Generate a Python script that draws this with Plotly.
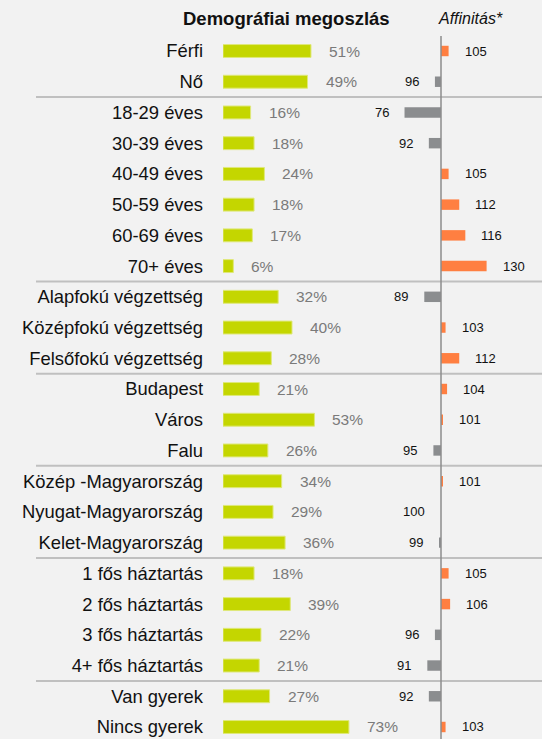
import plotly.graph_objects as go

# Demographic breakdown and affinity index
categories = [
    "Férfi", "Nő",
    "18-29 éves", "30-39 éves", "40-49 éves", "50-59 éves", "60-69 éves", "70+ éves",
    "Alapfokú végzettség", "Középfokú végzettség", "Felsőfokú végzettség",
    "Budapest", "Város", "Falu",
    "Közép -Magyarország", "Nyugat-Magyarország", "Kelet-Magyarország",
    "1 fős háztartás", "2 fős háztartás", "3 fős háztartás", "4+ fős háztartás",
    "Van gyerek", "Nincs gyerek",
]
shares = [51, 49, 16, 18, 24, 18, 17, 6, 32, 40, 28, 21, 53, 26, 34, 29, 36, 18, 39, 22, 21, 27, 73]
affinity = [105, 96, 76, 92, 105, 112, 116, 130, 89, 103, 112, 104, 101, 95, 101, 100, 99, 105, 106, 96, 91, 92, 103]
# index of the last row in each group (a separator line goes below it)
group_ends = [1, 7, 10, 13, 16, 20]

W, H = 542, 739
FONT = "Liberation Sans, Arial, sans-serif"
GREEN = "#c4d600"
ORANGE = "#ff7f41"
GRAY = "#8b8d8f"

aff_colors = [ORANGE if v > 100 else GRAY for v in affinity]

fig = go.Figure()

fig.add_trace(go.Bar(
    y=categories, x=shares, orientation="h",
    marker=dict(color=GREEN, line=dict(color="#dfe87a", width=1)),
    width=0.42, xaxis="x", yaxis="y", hoverinfo="skip",
))
fig.add_trace(go.Bar(
    y=categories, x=[v - 100 for v in affinity], base=100, orientation="h",
    marker=dict(color=aff_colors, line=dict(width=0)),
    width=0.34, xaxis="x2", yaxis="y", hoverinfo="skip",
))

annotations = []
for cat, s in zip(categories, shares):
    annotations.append(dict(
        x=s, y=cat, xref="x", yref="y", text=f"{s}%", showarrow=False,
        xanchor="left", xshift=16, font=dict(family=FONT, size=15.5, color="#7a7a7a"),
    ))
for cat, v in zip(categories, affinity):
    right = v > 100
    annotations.append(dict(
        x=v if right else min(v, 100), y=cat, xref="x2", yref="y", text=str(v),
        showarrow=False, xanchor="left" if right else "right",
        xshift=14 if right else -14, font=dict(family=FONT, size=13, color="#111111"),
    ))
annotations.append(dict(
    x=286 / W, y=1 - 19 / H, xref="paper", yref="paper", text="<b>Demográfiai megoszlás</b>",
    showarrow=False, xanchor="center", yanchor="middle",
    font=dict(family=FONT, size=18.5, color="#111111"),
))
annotations.append(dict(
    x=470 / W, y=1 - 19 / H, xref="paper", yref="paper", text="<i>Affinitás*</i>",
    showarrow=False, xanchor="center", yanchor="middle",
    font=dict(family=FONT, size=16, color="#111111"),
))

shapes = []
for g in group_ends:
    shapes.append(dict(
        type="line", xref="paper", yref="y", x0=36 / W, x1=1, y0=g + 0.5, y1=g + 0.5,
        line=dict(color="#c0c0c0", width=2), layer="below",
    ))
shapes.append(dict(
    type="line", xref="x2", yref="paper", x0=100, x1=100, y0=0, y1=1 - 36 / H,
    line=dict(color="#8c8c8c", width=1.5),
))

# pixel mapping: left bars start at x=223 (1.725 px per %), affinity 100 at x=441 (1.52 px per unit)
x1_dom = [223 / W, 360 / W]
x2_dom = [360 / W, 1.0]
row_px = 30.727
first_row = 51

fig.update_layout(
    width=W, height=H,
    margin=dict(l=0, r=0, t=0, b=0),
    paper_bgcolor="#f2f2f2", plot_bgcolor="#f2f2f2",
    showlegend=False, barmode="overlay",
    xaxis=dict(domain=x1_dom, range=[0, 137 / 1.725], visible=False, fixedrange=True),
    xaxis2=dict(domain=x2_dom, range=[100 - 81 / 1.52, 100 + 101 / 1.52], visible=False, fixedrange=True),
    yaxis=dict(
        type="category", categoryorder="array", categoryarray=categories,
        range=[(H - first_row) / row_px, -first_row / row_px],
        showgrid=False, zeroline=False, showline=False, ticks="",
        ticklabelstandoff=19,
        tickfont=dict(family=FONT, size=18.4, color="#111111"),
        anchor="x", fixedrange=True,
    ),
    annotations=annotations, shapes=shapes,
)

# drop the page's default body margin so the figure sits at the window's corner
fig.write_html(
    "out.html",
    config={"displayModeBar": False},
    post_script="document.body.style.margin='0';",
)
